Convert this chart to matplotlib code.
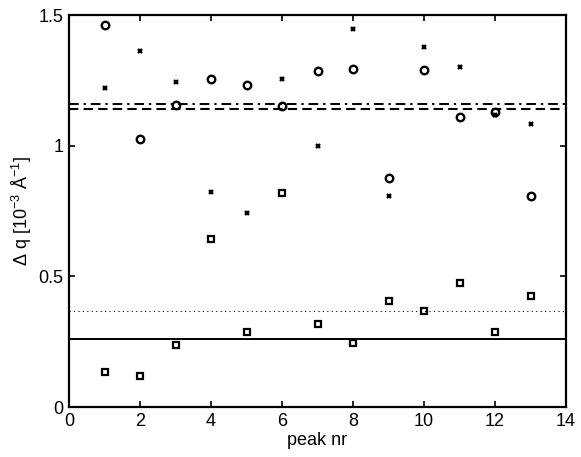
import matplotlib
matplotlib.use("Agg")
import matplotlib.pyplot as plt

plt.rcParams['font.family'] = ['Liberation Sans', 'DejaVu Sans']
plt.rcParams['mathtext.fontset'] = 'custom'
plt.rcParams['mathtext.rm'] = 'Liberation Sans'
plt.rcParams['mathtext.it'] = 'Liberation Sans'

peaks = list(range(1, 14))
circles = [1.461, 1.026, 1.154, 1.254, 1.231, 1.153, 1.286, 1.292, 0.876, 1.290, 1.110, 1.128, 0.807]
crosses = [1.221, 1.363, 1.244, 0.824, 0.742, 1.254, 0.997, 1.448, 0.807, 1.378, 1.300, 1.119, 1.082]
squares = [0.135, 0.120, 0.236, 0.641, 0.287, 0.820, 0.319, 0.246, 0.405, 0.367, 0.474, 0.286, 0.423]

level_dashdot = 1.160
level_dashed = 1.141
level_dotted = 0.368
level_solid = 0.261

xticks = [0, 2, 4, 6, 8, 10, 12, 14]
yticks = [0, 0.5, 1, 1.5]
ytick_labels = ['0', '0.5', '1', '1.5']

fig = plt.figure(figsize=(5.81, 4.57), dpi=100)
ax = fig.add_axes([69/581, 1 - 407/457, (566-69)/581, (407-15)/457])

ax.axhline(level_dashdot, color='k', lw=1.4, linestyle=(0, (5, 2.5, 1.2, 2.5)))
ax.axhline(level_dashed, color='k', lw=1.5, linestyle=(0, (4.5, 2.5)))
ax.axhline(level_dotted, color='k', lw=0.8, linestyle=(0, (1, 3)))
ax.axhline(level_solid, color='k', lw=1.4, linestyle='-')

ax.plot(peaks, circles, linestyle='none', marker='o', markersize=5.4, mfc='none', mec='k', mew=1.7)
ax.plot(peaks, crosses, linestyle='none', marker='x', markersize=3.2, mec='k', mew=1.7)
ax.plot(peaks, squares, linestyle='none', marker='s', markersize=4.4, mfc='none', mec='k', mew=1.6)

ax.set_xlim(0, 14)
ax.set_ylim(0, 1.5)
ax.set_xticks(xticks)
ax.set_yticks(yticks)
ax.set_yticklabels(ytick_labels)
ax.tick_params(direction='in', top=True, right=True, length=4, width=1.2, labelsize=13, pad=4)
for s in ax.spines.values():
    s.set_linewidth(1.6)

ax.set_xlabel('peak nr', fontsize=13, labelpad=2)
ax.set_ylabel('Δ q [10$^{-3}$ Å$^{-1}$]', fontsize=13, labelpad=3)

fig.savefig('out.png', dpi=100)
